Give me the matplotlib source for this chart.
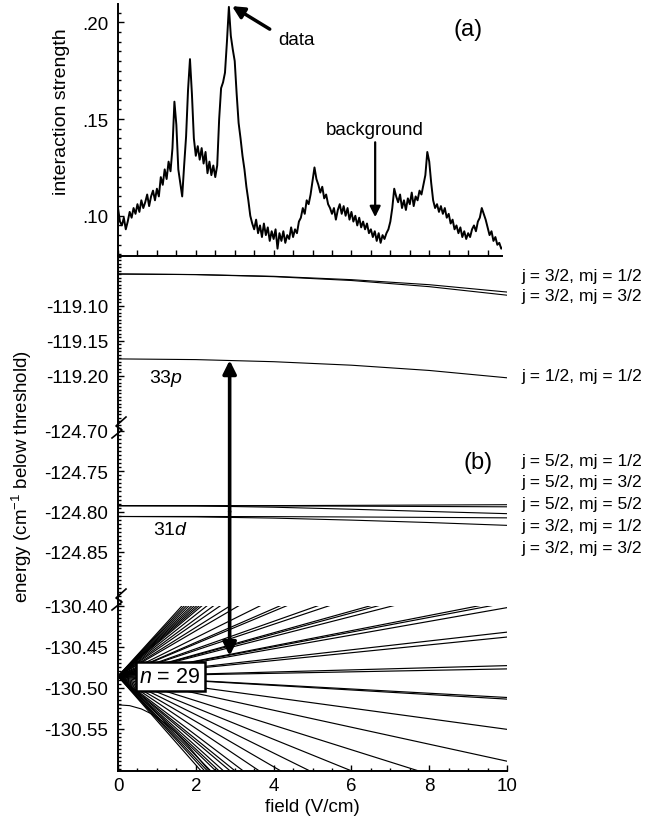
import numpy as np
import matplotlib
matplotlib.use('Agg')
import matplotlib.pyplot as plt
from matplotlib.ticker import MultipleLocator, FixedLocator
from matplotlib.lines import Line2D

plt.rcParams['font.family'] = ['Liberation Sans', 'DejaVu Sans']
plt.rcParams['mathtext.fontset'] = 'custom'
plt.rcParams['mathtext.rm'] = 'Liberation Sans'
plt.rcParams['mathtext.it'] = 'Liberation Sans:italic'

# ---- panel (a): interaction strength vs field, sampled every 0.05 V/cm
field_a = np.round(np.arange(199) * 0.05, 2)
strength = [
    0.104, 0.097, 0.095, 0.099, 0.093, 0.097, 0.102, 0.099, 0.104, 0.101,
    0.106, 0.102, 0.108, 0.104, 0.107, 0.111, 0.105, 0.110, 0.113, 0.108,
    0.114, 0.110, 0.120, 0.116, 0.124, 0.119, 0.128, 0.123, 0.135, 0.159,
    0.147, 0.124, 0.117, 0.110, 0.126, 0.141, 0.165, 0.181, 0.163, 0.140,
    0.131, 0.136, 0.129, 0.135, 0.127, 0.133, 0.122, 0.128, 0.121, 0.126,
    0.120, 0.126, 0.150, 0.166, 0.169, 0.174, 0.190, 0.208, 0.193, 0.186,
    0.180, 0.163, 0.148, 0.140, 0.131, 0.124, 0.115, 0.108, 0.100, 0.096,
    0.093, 0.098, 0.091, 0.095, 0.089, 0.096, 0.090, 0.094, 0.087, 0.092,
    0.088, 0.093, 0.083, 0.091, 0.087, 0.092, 0.086, 0.090, 0.088, 0.094,
    0.089, 0.093, 0.091, 0.097, 0.099, 0.104, 0.101, 0.108, 0.106, 0.111,
    0.118, 0.125, 0.119, 0.116, 0.112, 0.115, 0.109, 0.111, 0.106, 0.104,
    0.101, 0.104, 0.098, 0.103, 0.106, 0.101, 0.105, 0.100, 0.104, 0.098,
    0.102, 0.097, 0.100, 0.095, 0.099, 0.094, 0.097, 0.093, 0.096, 0.091,
    0.093, 0.089, 0.092, 0.087, 0.091, 0.086, 0.090, 0.088, 0.091, 0.093,
    0.097, 0.104, 0.114, 0.110, 0.107, 0.111, 0.104, 0.108, 0.103, 0.109,
    0.106, 0.112, 0.105, 0.110, 0.108, 0.113, 0.111, 0.116, 0.121, 0.133,
    0.128, 0.117, 0.108, 0.104, 0.106, 0.102, 0.105, 0.101, 0.104, 0.099,
    0.101, 0.096, 0.098, 0.093, 0.095, 0.091, 0.094, 0.089, 0.092, 0.088,
    0.091, 0.089, 0.093, 0.095, 0.092, 0.097, 0.099, 0.104, 0.101, 0.098,
    0.094, 0.090, 0.092, 0.087, 0.089, 0.085, 0.086, 0.083, 0.084,
]

# ---- panel (b): energy levels (cm-1 below threshold)
curve_field = [0, 2, 4, 6, 8, 10]
p33 = {
    'j = 3/2, mj = 1/2': [-119.0547, -119.0555, -119.0580, -119.0628, -119.0700, -119.0805],
    'j = 3/2, mj = 3/2': [-119.0547, -119.0556, -119.0585, -119.0640, -119.0728, -119.0850],
    'j = 1/2, mj = 1/2': [-119.1760, -119.1770, -119.1800, -119.1850, -119.1925, -119.2030],
}
d31 = {
    'j = 5/2, mj = 1/2': [-124.7926, -124.7926, -124.7925, -124.7922, -124.7918, -124.7914],
    'j = 5/2, mj = 3/2': [-124.7926, -124.7927, -124.7929, -124.7932, -124.7936, -124.7940],
    'j = 5/2, mj = 5/2': [-124.7926, -124.7929, -124.7945, -124.7970, -124.7998, -124.8025],
    'j = 3/2, mj = 1/2': [-124.8060, -124.8060, -124.8062, -124.8066, -124.8071, -124.8077],
    'j = 3/2, mj = 3/2': [-124.8060, -124.8065, -124.8080, -124.8105, -124.8135, -124.8170],
}
n29_zero_field = -130.486
stark_slope = [0.0524, 0.0506, 0.0489, 0.0472, 0.0455, 0.0440, 0.0426, 0.0413,
               0.0400, 0.0377, 0.0351, 0.0328, 0.0299, 0.0278, 0.0236, 0.0207,
               0.0199, 0.0168, 0.0159, 0.0133, 0.0129, 0.0122, 0.0093, 0.0090,
               0.0084, 0.0054, 0.0048, 0.0013, 0.0009,
               -0.0026, -0.0028, -0.0065, -0.0104, -0.0150, -0.0193, -0.0235,
               -0.0277, -0.0319, -0.0360, -0.0385, -0.0402, -0.0427, -0.0446,
               -0.0461, -0.0486, -0.0504, -0.0520, -0.0543]
low_state_field = [0, 0.3, 0.6, 0.9, 1.2, 1.5, 1.8, 2.1, 2.4]
low_state_energy = [-130.521, -130.522, -130.526, -130.533, -130.543,
                    -130.556, -130.571, -130.588, -130.605]

W, H = 647, 820
fig = plt.figure(figsize=(W / 100, H / 100), dpi=100)


def px_axes(l, t, r, b):
    return fig.add_axes([l / W, 1 - b / H, (r - l) / W, (b - t) / H])


ax_a = px_axes(118, 5, 502, 257)
ax_b1 = px_axes(118, 257, 507, 432)
ax_b2 = px_axes(118, 432, 507, 607)
ax_b3 = px_axes(118, 607, 507, 772)

for ax in (ax_a, ax_b1, ax_b2, ax_b3):
    ax.patch.set_visible(False)
    for s in ('top', 'right'):
        ax.spines[s].set_visible(False)
    ax.spines['left'].set_linewidth(1.4)
    ax.spines['bottom'].set_linewidth(1.4)
    ax.tick_params(which='both', direction='in', labelsize=13.5, width=1, pad=7)
    ax.tick_params(which='major', length=4)
    ax.tick_params(which='minor', length=2)

# panel (a)
ax_a.plot(field_a, strength, color='black', lw=1.4)
ax_a.set_xlim(0, 9.87)
ax_a.set_ylim(0.0792, 0.2095)
ax_a.xaxis.set_major_locator(MultipleLocator(0.5))
ax_a.tick_params(axis='x', labelbottom=False)
ax_a.yaxis.set_major_locator(FixedLocator([0.10, 0.15, 0.20]))
ax_a.set_yticklabels(['.10', '.15', '.20'])
ax_a.yaxis.set_minor_locator(MultipleLocator(0.005))
ax_a.text(9.0, 0.1965, '(a)', fontsize=17, ha='center', va='center')
ax_a.text(4.58, 0.1914, 'data', fontsize=13.5, ha='center', va='center')
ax_a.annotate('', xy=(2.93, 0.2084), xytext=(3.9, 0.1965),
              arrowprops=dict(arrowstyle='-|>', lw=2.5, color='black',
                              mutation_scale=18, shrinkA=0, shrinkB=0),
              annotation_clip=False)
ax_a.text(6.61, 0.1448, 'background', fontsize=13.5, ha='center', va='center')
ax_a.annotate('', xy=(6.61, 0.0993), xytext=(6.61, 0.138),
              arrowprops=dict(arrowstyle='-|>', lw=1.6, color='black',
                              mutation_scale=16, shrinkA=0, shrinkB=0))
fig.text(61 / W, 1 - 112 / H, 'interaction strength', rotation=90,
         fontsize=14, ha='center', va='center')

# panel (b) segments
for name, e in p33.items():
    ax_b1.plot(curve_field, e, color='black', lw=0.8)
for name, e in d31.items():
    ax_b2.plot(curve_field, e, color='black', lw=0.8)
for s in stark_slope:
    ax_b3.plot([0, 10], [n29_zero_field, n29_zero_field + 10 * s], color='black', lw=0.85)
ax_b3.plot(low_state_field, low_state_energy, color='black', lw=0.8)

ax_b1.set_ylim(-119.279, -119.029)
ax_b2.set_ylim(-124.917, -124.700)
ax_b3.set_ylim(-130.602, -130.400)
seg_ticks = [
    (ax_b1, [-119.10, -119.15, -119.20]),
    (ax_b2, [-124.70, -124.75, -124.80, -124.85]),
    (ax_b3, [-130.40, -130.45, -130.50, -130.55]),
]
for ax, ticks in seg_ticks:
    ax.set_xlim(0, 10)
    ax.yaxis.set_major_locator(FixedLocator(ticks))
    ax.set_yticklabels(['%.2f' % t for t in ticks])
    ax.yaxis.set_minor_locator(MultipleLocator(0.005))
for ax in (ax_b1, ax_b2):
    ax.spines['bottom'].set_visible(False)
    ax.tick_params(axis='x', which='both', bottom=False, labelbottom=False)
ax_b3.xaxis.set_major_locator(MultipleLocator(2))
ax_b3.xaxis.set_minor_locator(MultipleLocator(0.5))
ax_b3.tick_params(axis='x', pad=4)
ax_b3.set_xlabel('field (V/cm)', fontsize=13.5, labelpad=3)

ax_b1.text(0.8, -119.203, r'33$\mathit{p}$', fontsize=14, ha='left', va='center')
ax_b2.text(0.9, -124.822, r'31$\mathit{d}$', fontsize=14, ha='left', va='center')
ax_b2.text(9.25, -124.7385, '(b)', fontsize=17, ha='center', va='center')
ax_b3.text(1.34, -130.486, r'$\mathit{n}$ = 29', fontsize=15.5, ha='center', va='center',
           bbox=dict(boxstyle='square,pad=0.18', fc='white', ec='black', lw=1.8), zorder=5)

# transition arrows 31d -> 33p and 31d -> n=29
ax_b3.annotate('', xy=(2.87, -119.178), xycoords=ax_b1.transData,
               xytext=(2.87, -124.80), textcoords=ax_b2.transData,
               arrowprops=dict(arrowstyle='-|>', lw=2.6, color='black',
                               mutation_scale=20, shrinkA=0, shrinkB=0),
               annotation_clip=False)
ax_b3.annotate('', xy=(2.87, -130.461), xycoords=ax_b3.transData,
               xytext=(2.87, -124.80), textcoords=ax_b2.transData,
               arrowprops=dict(arrowstyle='-|>', lw=2.6, color='black',
                               mutation_scale=20, shrinkA=0, shrinkB=0),
               annotation_clip=False)

fig.text(22 / W, 1 - 476 / H, r'energy (cm$^{-1}$ below threshold)', rotation=90,
         fontsize=13.5, ha='center', va='center')

# state labels at the right
right_labels = list(p33.keys()) + list(d31.keys())
label_rows = [276, 297, 377, 462, 483, 505, 527, 549]
for txt, ypx in zip(right_labels, label_rows):
    fig.text(521 / W, 1 - ypx / H, txt, fontsize=12.6, ha='left', va='center')

# axis break marks
for y0 in (428, 600):
    xs = [112, 122, 116, 126]
    ys = [y0 + 11, y0 + 3, y0 - 1, y0 - 10]
    fig.add_artist(Line2D([x / W for x in xs], [1 - y / H for y in ys],
                          transform=fig.transFigure, color='black', lw=1.2))

fig.savefig('out.png', dpi=100)
